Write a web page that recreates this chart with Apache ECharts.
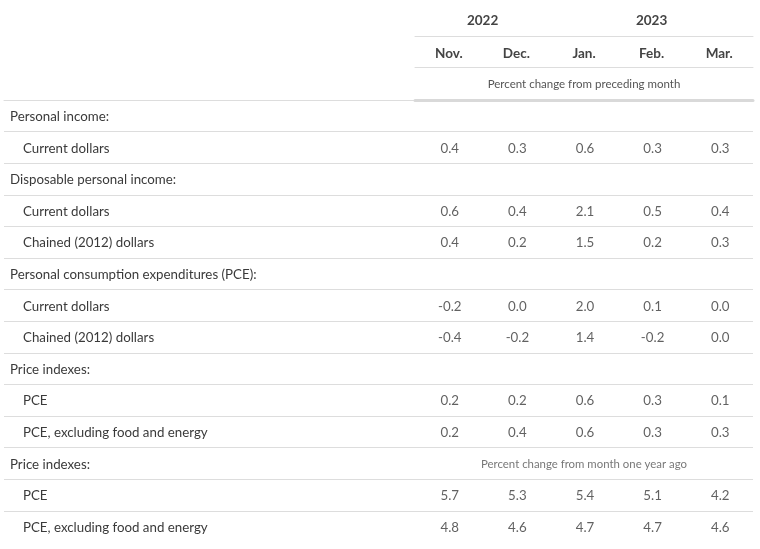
<!DOCTYPE html>
<html>
<head>
<meta charset="utf-8">
<script src="https://cdn.jsdelivr.net/npm/echarts@6/dist/echarts.min.js"></script>
<style>
html,body{margin:0;padding:0;background:#fff;}
#main{width:760px;height:549px;}
</style>
</head>
<body>
<div id="main"></div>
<script>
// ---- data ----
const months = ['Nov.', 'Dec.', 'Jan.', 'Feb.', 'Mar.'];
const yearLabels = ['2022', '2023'];
const yearCenters = [1, 3.5]; // in column units across the 5 month columns
const subtitleTop = 'Percent change from preceding month';
const subtitleYoY = 'Percent change from month one year ago';

const rowLabels = [
  'Personal income:',
  'Current dollars',
  'Disposable personal income:',
  'Current dollars',
  'Chained (2012) dollars',
  'Personal consumption expenditures (PCE):',
  'Current dollars',
  'Chained (2012) dollars',
  'Price indexes:',
  'PCE',
  'PCE, excluding food and energy',
  'Price indexes:',
  'PCE',
  'PCE, excluding food and energy'
];
const rowIndent = [0,1,0,1,1,0,1,1,0,1,1,0,1,1];

const piCurrent      = [0.4, 0.3, 0.6, 0.3, 0.3];
const dpiCurrent     = [0.6, 0.4, 2.1, 0.5, 0.4];
const dpiChained     = [0.4, 0.2, 1.5, 0.2, 0.3];
const pceCurrent     = [-0.2, 0.0, 2.0, 0.1, 0.0];
const pceChained     = [-0.4, -0.2, 1.4, -0.2, 0.0];
const priceMoM       = [0.2, 0.2, 0.6, 0.3, 0.1];
const priceCoreMoM   = [0.2, 0.4, 0.6, 0.3, 0.3];
const priceYoY       = [5.7, 5.3, 5.4, 5.1, 4.2];
const priceCoreYoY   = [4.8, 4.6, 4.7, 4.7, 4.6];

const valueRows = [
  [1, piCurrent], [3, dpiCurrent], [4, dpiChained],
  [6, pceCurrent], [7, pceChained], [9, priceMoM],
  [10, priceCoreMoM], [12, priceYoY], [13, priceCoreYoY]
];
const yoyRow = 11;

// ---- build ----
const rowIds = rowLabels.map((_, i) => 'r' + i);
const cells = [];
valueRows.forEach(([r, arr]) => arr.forEach((v, c) => cells.push([c, r, v])));

const FONT = 'Lato';
const TXT = '#3a3a3a';
const LINE = '#dddddd';
const FS = 13.3;

const chart = echarts.init(document.getElementById('main'), null, {renderer: 'canvas'});
const rowH = 31.6;
const gridTop = 100;
const gridH = rowH * rowLabels.length;

chart.setOption({
  backgroundColor: '#fff',
  animation: false,
  textStyle: {fontFamily: FONT},
  grid: [
    {left: 4, width: 411, top: gridTop, height: gridH},
    {left: 415, width: 338, top: gridTop, height: gridH}
  ],
  xAxis: [
    {gridIndex: 0, type: 'value', min: 0, max: 1, position: 'top',
     axisLine: {show: true, lineStyle: {color: LINE, width: 1}},
     axisTick: {show: false}, axisLabel: {show: false}, splitLine: {show: false}},
    {gridIndex: 1, type: 'category', data: months, position: 'top', offset: 33,
     axisLine: {show: true, lineStyle: {color: LINE, width: 1}},
     axisTick: {show: false},
     axisLabel: {margin: 6, color: '#444', fontFamily: FONT, fontSize: 13.5, fontWeight: 'bold'},
     splitLine: {show: false}},
    {gridIndex: 1, type: 'value', min: 0, max: 5, interval: 0.5, position: 'top', offset: 64,
     axisLine: {show: true, lineStyle: {color: LINE, width: 1}},
     axisTick: {show: false},
     axisLabel: {margin: 8, color: '#444', fontFamily: FONT, fontSize: 13.5, fontWeight: 'bold',
       formatter: v => { const k = yearCenters.indexOf(v); return k >= 0 ? yearLabels[k] : ''; }},
     splitLine: {show: false}},
    {gridIndex: 1, type: 'value', min: 0, max: 5, interval: 0.5, position: 'top', offset: 0,
     axisLine: {show: true, lineStyle: {color: '#d9d9d9', width: 3}},
     axisTick: {show: false},
     axisLabel: {margin: 10, color: '#555', fontFamily: FONT, fontSize: 11.5,
       formatter: v => v === 2.5 ? subtitleTop : ''},
     splitLine: {show: false}}
  ],
  yAxis: [
    {gridIndex: 0, type: 'category', data: rowIds, inverse: true,
     axisLine: {show: false}, axisTick: {show: false},
     axisLabel: {inside: true, margin: 6, color: TXT, fontFamily: FONT, fontSize: FS,
       formatter: (v, i) => (rowIndent[i] ? '{s|' : '{h|') + rowLabels[i] + '}',
       rich: {h: {fontFamily: FONT, fontSize: FS, color: TXT, padding: [2, 0, 0, 0]},
              s: {fontFamily: FONT, fontSize: FS, color: TXT, padding: [2, 0, 0, 13]}}},
     splitLine: {show: true, showMinLine: false, showMaxLine: false,
       lineStyle: {color: LINE, width: 1}}},
    {gridIndex: 1, type: 'category', data: rowIds, inverse: true,
     axisLine: {show: false}, axisTick: {show: false}, axisLabel: {show: false},
     splitLine: {show: true, showMinLine: false, showMaxLine: false,
       lineStyle: {color: LINE, width: 1}}}
  ],
  series: [
    {type: 'scatter', xAxisIndex: 1, yAxisIndex: 1, symbolSize: 1,
     itemStyle: {color: 'rgba(0,0,0,0)'},
     data: cells,
     label: {show: true, position: 'inside', offset: [1, 1], color: TXT, fontFamily: FONT, fontSize: FS,
       formatter: p => p.value[2].toFixed(1)},
     emphasis: {disabled: true}},
    {type: 'scatter', xAxisIndex: 1, yAxisIndex: 1, symbolSize: 1,
     itemStyle: {color: 'rgba(0,0,0,0)'},
     data: [[2, yoyRow]],
     label: {show: true, position: 'inside', offset: [0, 1], color: '#555', fontFamily: FONT, fontSize: 11.4,
       formatter: () => subtitleYoY},
     emphasis: {disabled: true}}
  ]
});
</script>
</body>
</html>
